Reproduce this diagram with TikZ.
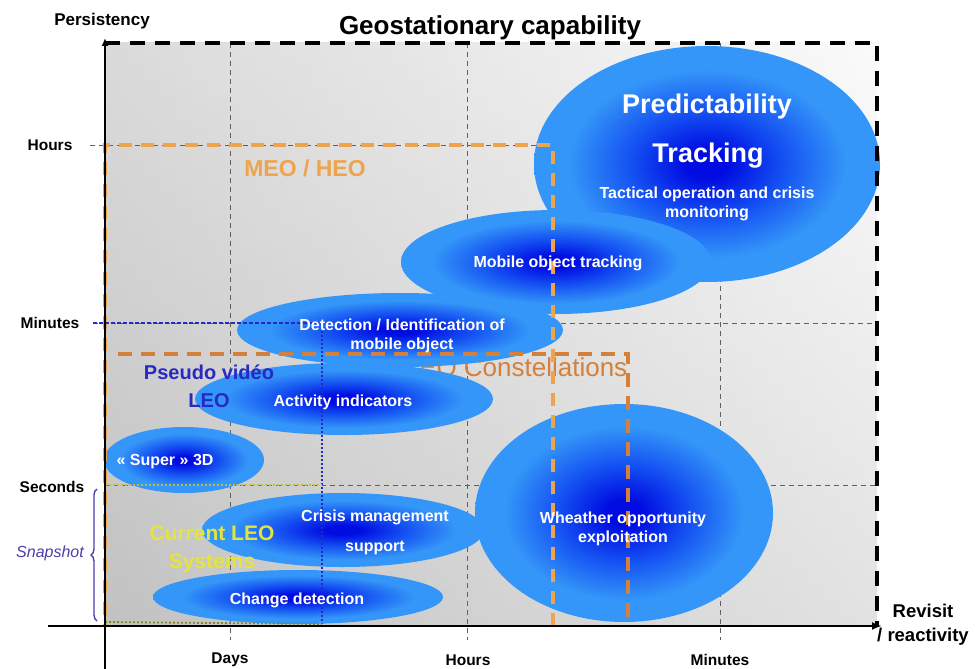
\documentclass[tikz,border=0pt]{standalone}
\usepackage{fontspec}
\setmainfont{Liberation Sans}
\usetikzlibrary{arrows.meta,decorations.pathreplacing,shapes.geometric}
\definecolor{blobdark}{RGB}{0,12,226}
\definecolor{blobmid}{RGB}{20,80,242}
\definecolor{bloblight}{RGB}{52,150,248}
\definecolor{meoorange}{RGB}{238,164,76}
\definecolor{leoorange}{RGB}{212,128,58}
\definecolor{leoyellow}{RGB}{228,228,60}
\definecolor{dotyellow}{RGB}{190,190,60}
\definecolor{pseudoblue}{RGB}{40,40,196}
\definecolor{snapviolet}{RGB}{80,60,170}
\pgfdeclareradialshading{blob}{\pgfpoint{0bp}{0bp}}{color(0bp)=(blobdark); color(3bp)=(blobdark); color(11bp)=(blobmid); color(20bp)=(bloblight); color(25bp)=(bloblight); color(50bp)=(bloblight)}
\tikzset{
  blobshape/.style={ellipse, shading=blob, inner sep=0pt, draw=none},
  wtxt/.style={text=white, align=center, font=\fontsize{16}{19}\selectfont\bfseries},
  axlbl/.style={font=\fontsize{15.5}{18}\selectfont\bfseries},
  gridline/.style={gray!75!black, line width=0.8pt, dash pattern=on 5pt off 4pt},
  meobox/.style={draw=meoorange, line width=3.6pt, dash pattern=on 13pt off 9pt},
  leobox/.style={draw=leoorange, line width=4pt, dash pattern=on 14pt off 9pt},
  geobox/.style={line width=4pt, dash pattern=on 15pt off 10pt},
}
\begin{document}
\begin{tikzpicture}[x=1pt,y=-1pt]
\useasboundingbox (0,0) rectangle (977,669);
% background
\shade[left color=gray!44, right color=gray!5] (105,43) rectangle (877,626);
\shade[top color=white, bottom color=gray!55, opacity=0.35] (105,43) rectangle (877,626);
% grid
\coordinate (gDt) at (230,43); \coordinate (gDb) at (230,640);
\coordinate (gHt) at (467,43); \coordinate (gHb) at (467,640);
\coordinate (gMt) at (720,43); \coordinate (gMb) at (720,640);
\draw[gridline] (gDt) -- (gDb);
\draw[gridline] (gHt) -- (gHb);
\draw[gridline] (gMt) -- (gMb);
\coordinate (hL) at (90,145); \coordinate (hR) at (877,145);
\coordinate (mL) at (93,323); \coordinate (mR) at (877,323);
\coordinate (sL) at (105,485); \coordinate (sR) at (877,485);
\draw[gridline] (hL) -- (hR);
\draw[gridline] (mL) -- (mR);
\draw[gridline] (sL) -- (sR);
% labels under blobs
\node[text=leoorange, font=\fontsize{26}{30}\selectfont] (leolbl) at (516,367) {LEO Constellations};
% blobs
\node[blobshape, minimum width=346pt, minimum height=236pt] (pred) at (707,164) {};
\node[blobshape, minimum width=310pt, minimum height=104pt] (mob) at (556,262) {};
\node[blobshape, minimum width=326pt, minimum height=74pt] (det) at (400,330) {};
\node[blobshape, minimum width=298pt, minimum height=72pt] (act) at (344,399) {};
\node[blobshape, minimum width=160pt, minimum height=66pt] (sup) at (184,460) {};
\node[blobshape, minimum width=298pt, minimum height=218pt] (wea) at (624,513) {};
\node[blobshape, minimum width=282pt, minimum height=74pt] (cri) at (343,530) {};
\node[blobshape, minimum width=290pt, minimum height=54pt] (chg) at (298,597) {};
% coloured region outlines
\coordinate (meoA) at (105,145); \coordinate (meoB) at (553,145); \coordinate (meoC) at (553,626);
\draw[meobox] (meoC) -- (meoB) -- (meoA) -- (105,626);
\coordinate (leoA) at (118,354); \coordinate (leoB) at (628,354); \coordinate (leoC) at (628,626);
\draw[leobox] (leoA) -- (leoB) -- (leoC);
\coordinate (pvA) at (93,323); \coordinate (pvB) at (322,323); \coordinate (pvC) at (322,624);
\draw[pseudoblue, line width=1.4pt, dash pattern=on 4pt off 2pt] (pvA) -- (pvB);
\draw[pseudoblue, line width=2pt, dash pattern=on 2pt off 2pt] (pvB) -- (pvC);
\coordinate (clA) at (105,485); \coordinate (clB) at (322,485); \coordinate (clC) at (105,622);
\draw[dotyellow, line width=2.2pt, dash pattern=on 2pt off 2pt] (clA) -- (clB);
\draw[dotyellow!70!black, line width=1.8pt, dash pattern=on 2pt off 2pt] (clC) -- (pvC);
% geostationary box
\coordinate (geoA) at (105,43); \coordinate (geoB) at (877,43); \coordinate (geoC) at (877,626);
\draw[geobox] (geoA) -- (geoB) -- (geoC);
% axes
\coordinate (yb) at (105,669); \coordinate (yt) at (105,38);
\coordinate (xl) at (48,626); \coordinate (xr) at (882,626);
\draw[line width=2.4pt, -{Latex[length=8pt,width=7pt]}] (yb) -- (yt);
\draw[line width=2.4pt, -{Latex[length=10pt,width=8pt]}] (xl) -- (xr);
% snapshot brace
\coordinate (brB) at (97,621); \coordinate (brT) at (97,489);
\draw[snapviolet, line width=1.4pt, decorate, decoration={brace, amplitude=6pt}] (brB) -- (brT);
% texts
\node[font=\fontsize{26}{30}\selectfont\bfseries] (title) at (490,28) {Geostationary capability};
\node[font=\fontsize{17}{20}\selectfont\bfseries] (pers) at (102,21) {Persistency};
\node[axlbl] (lh) at (50,145) {Hours};
\node[axlbl] (lm) at (50,323) {Minutes};
\node[axlbl] (ls) at (52,487) {Seconds};
\node[text=snapviolet, font=\fontsize{16}{19}\selectfont\itshape] (snap) at (50,553) {Snapshot};
\node[axlbl] (xd) at (230,660) {Days};
\node[axlbl] (xh) at (468,660) {Hours};
\node[axlbl] (xm) at (720,660) {Minutes};
\node[align=center, font=\fontsize{18.5}{24}\selectfont\bfseries] (rev) at (923,625) {Revisit\\/ reactivity};
\node[text=meoorange, font=\fontsize{23}{27}\selectfont\bfseries] (meolbl) at (305,168) {MEO / HEO};
\node[text=pseudoblue, align=center, font=\fontsize{20}{28}\selectfont\bfseries] (pvlbl) at (209,386) {Pseudo vidéo\\LEO};
\node[text=leoyellow, align=center, font=\fontsize{21}{28}\selectfont\bfseries] (cllbl) at (212,549) {Current LEO\\Systems};
\node[text=white, font=\fontsize{27}{30}\selectfont\bfseries] (tpred) at (707,107) {Predictability};
\node[text=white, font=\fontsize{27}{30}\selectfont\bfseries] (ttrack) at (708,156) {Tracking};
\node[wtxt] (ttact) at (707,204) {Tactical operation and crisis\\monitoring};
\node[wtxt] (tmob) at (558,263) {Mobile object tracking};
\node[wtxt] (tdet) at (402,336) {Detection / Identification of\\mobile object};
\node[wtxt] (tact) at (343,402) {Activity indicators};
\node[wtxt] (tsup) at (165,462) {« Super » 3D};
\node[wtxt, font=\fontsize{16}{30}\selectfont\bfseries] (tcri) at (375,532) {Crisis management\\support};
\node[wtxt] (tchg) at (297,600) {Change detection};
\node[wtxt] (twea) at (623,529) {Wheather opportunity\\exploitation};
\end{tikzpicture}
\end{document}
